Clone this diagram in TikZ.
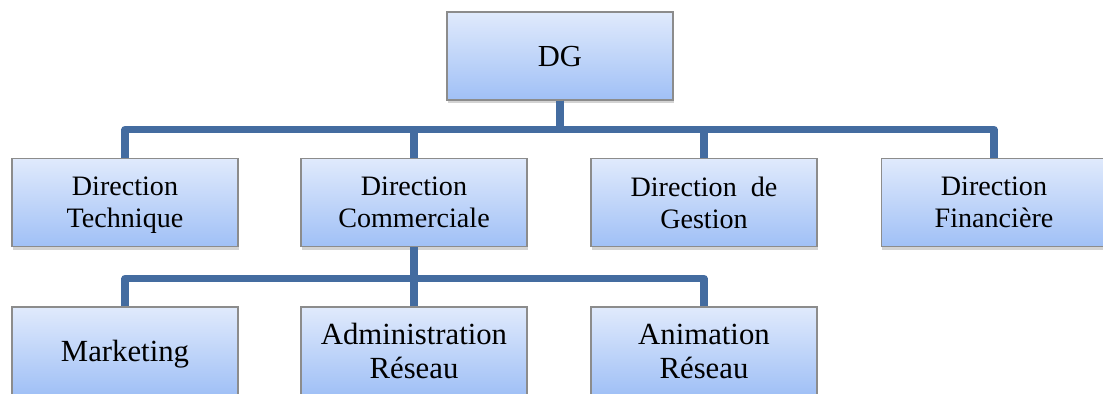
\documentclass[tikz,border=0pt]{standalone}
\usepackage{fontspec}
\setmainfont{Liberation Serif}
\usepackage{tikz}
\usetikzlibrary{shadows}

\definecolor{lien}{RGB}{68,108,160}
\definecolor{hautbleu}{RGB}{224,234,252}
\definecolor{basbleu}{RGB}{160,192,246}

\begin{document}
\begin{tikzpicture}[x=0.02cm, y=-0.02cm]
			\tikzstyle{every node}=[font=\fontsize{16}{18.2}\selectfont]
			\tikzstyle{boite}=[rectangle, draw={rgb,255:red,140;green,140;blue,140}, line width=0.6pt, top color=hautbleu, bottom color=basbleu, minimum width=4.52cm, minimum height=1.76cm, align=center, inner sep=2pt, text depth=0pt, drop shadow={shadow xshift=0.6pt, shadow yshift=-2pt, opacity=0.35}]
			\tikzstyle{grand}=[font=\fontsize{17.5}{19.4}\selectfont]
			\tikzstyle{lien}=[draw=lien, line width=4pt, line join=round]
			
			\useasboundingbox (0,0) rectangle (1103,394);
			\clip (0,0) rectangle (1103,394);
			
			%Direction generale
			\node[boite, font=\fontsize{17.4}{20}\selectfont] (dg) at (560,56) {DG};
			
			%Directions
			\node[boite] (tech) at (125,202.5) {Direction\\Technique};
			\node[boite] (comm) at (414,202.5) {Direction\\Commerciale};
			\node[boite] (gest) at (704,202.5) {Direction~~de\\Gestion};
			\node[boite] (fin) at (994,202.5) {Direction\\Financière};
			
			%Services commerciaux
			\node[boite, grand] (mark) at (125,351) {Marketing};
			\node[boite, grand] (admin) at (414,351) {Administration\\Réseau};
			\node[boite, grand] (anim) at (704,351) {Animation\\Réseau};
			
			%Barres horizontales
			\coordinate (barre1) at (560,129.5);
			\coordinate (barre2) at (414,278.5);
			
			%Liaisons
			\foreach \n in {tech,comm,gest,fin}
				\draw[lien] (dg.south) -- (dg.south |- barre1) -| (\n.north);
			\foreach \n in {mark,admin,anim}
				\draw[lien] (comm.south) -- (comm.south |- barre2) -| (\n.north);
		\end{tikzpicture}
\end{document}
